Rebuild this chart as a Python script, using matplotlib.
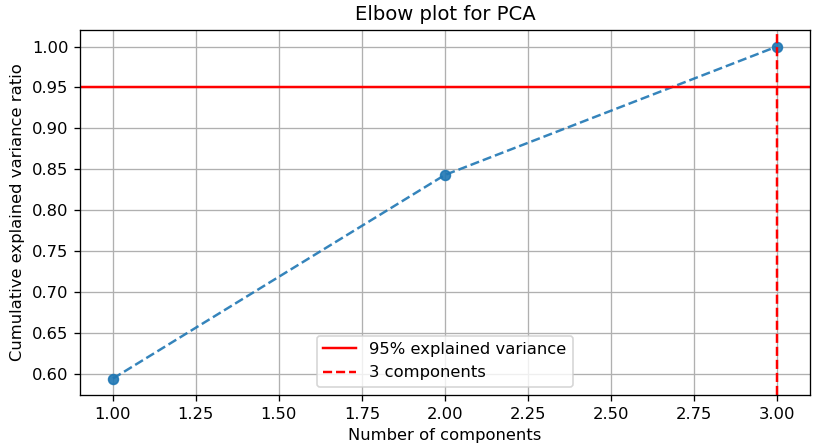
import numpy as np
import matplotlib
matplotlib.use("Agg")
import matplotlib.pyplot as plt

# Données
n_components = [1, 2, 3]
cum_var = [0.594, 0.843, 1.0]
threshold = 0.95
n_keep = 3

DPI = 118
fig, ax = plt.subplots(figsize=(814 / DPI, 448 / DPI), dpi=DPI)
ax.plot(n_components, cum_var, marker="o", linestyle="--", color="#1f77b4", alpha=0.9)
ax.axhline(y=threshold, color="r", linestyle="-", label="95% explained variance")
ax.axvline(x=n_keep, color="r", linestyle="--", label=f"{n_keep} components")
ax.set_title("Elbow plot for PCA")
ax.set_xlabel("Number of components")
ax.set_ylabel("Cumulative explained variance ratio")
ax.legend(loc="lower center")
ax.grid(True)
fig.subplots_adjust(left=0.098, right=0.995, top=0.933, bottom=0.118)
fig.savefig("out.png", dpi=DPI)
